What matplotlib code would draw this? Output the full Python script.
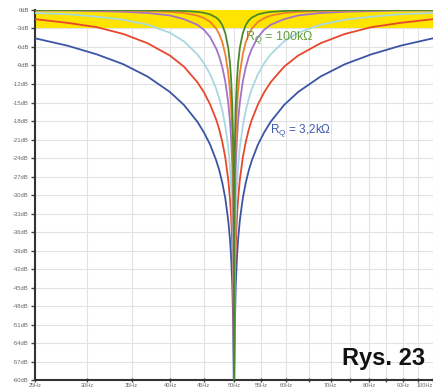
import matplotlib
matplotlib.use("Agg")
import matplotlib.pyplot as plt
from matplotlib.ticker import FixedLocator, NullFormatter

# frequency points (Hz), dense around the 50 Hz notch
freqs = [25, 28, 31, 34, 37, 40, 42, 44, 45, 46, 47, 47.5, 48, 48.5, 49, 49.3, 49.5, 49.7, 49.85, 49.95,
         50,
         50.05, 50.15, 50.3, 50.51, 50.71, 51.02, 51.55, 52.08, 52.63, 53.19, 54.35, 55.56, 56.82,
         59.52, 62.5, 67.57, 73.53, 80.65, 89.29, 100]

# attenuation (dB), RQ = 3,2k ... 100k
blue = [-4.6, -5.8, -7.2, -8.8, -10.8, -13.3, -15.4, -18.1, -19.8, -21.8, -24.4, -26.0, -28.0, -30.5,
        -34.1, -37.2, -40.1, -44.6, -50.6, -60.0,
        -60.0,
        -60.0, -50.6, -44.6, -40.1, -37.2, -34.1, -30.5, -28.0, -26.0, -24.4, -21.8, -19.8, -18.1,
        -15.4, -13.3, -10.8, -8.8, -7.2, -5.8, -4.6]
red = [-1.5, -2.1, -2.8, -3.9, -5.4, -7.4, -9.2, -11.7, -13.3, -15.3, -17.8, -19.4, -21.4, -23.9,
       -27.5, -30.6, -33.5, -38.0, -44.0, -53.6,
       -60.0,
       -53.6, -44.0, -38.0, -33.5, -30.6, -27.5, -23.9, -21.4, -19.4, -17.8, -15.3, -13.3, -11.7,
       -9.2, -7.4, -5.4, -3.9, -2.8, -2.1, -1.5]
light_blue = [-0.5, -0.7, -1.1, -1.6, -2.4, -3.7, -5.1, -7.2, -8.6, -10.4, -12.8, -14.4, -16.3, -18.8,
              -22.3, -25.4, -28.4, -32.8, -38.9, -48.4,
              -60.0,
              -48.4, -38.9, -32.8, -28.4, -25.4, -22.3, -18.8, -16.3, -14.4, -12.8, -10.4, -8.6, -7.2,
              -5.1, -3.7, -2.4, -1.6, -1.1, -0.7, -0.5]
purple = [-0.1, -0.1, -0.2, -0.3, -0.5, -0.9, -1.5, -2.4, -3.2, -4.4, -6.3, -7.6, -9.3, -11.6,
          -15.0, -18.0, -20.9, -25.3, -31.4, -40.9,
          -60.0,
          -40.9, -31.4, -25.3, -20.9, -18.0, -15.0, -11.6, -9.3, -7.6, -6.3, -4.4, -3.2, -2.4,
          -1.5, -0.9, -0.5, -0.3, -0.2, -0.1, -0.1]
orange = [-0.03, -0.05, -0.07, -0.11, -0.18, -0.32, -0.52, -0.92, -1.31, -1.93, -3.05, -3.95, -5.24, -7.17,
          -10.24, -13.15, -15.98, -20.37, -26.37, -35.91,
          -60.0,
          -35.91, -26.37, -20.37, -15.98, -13.15, -10.24, -7.17, -5.24, -3.95, -3.05, -1.93, -1.31, -0.92,
          -0.52, -0.32, -0.18, -0.11, -0.07, -0.05, -0.03]
green = [-0.01, -0.02, -0.02, -0.04, -0.06, -0.11, -0.18, -0.32, -0.47, -0.73, -1.25, -1.71, -2.47, -3.76,
         -6.15, -8.70, -11.34, -15.59, -21.53, -31.05,
         -60.0,
         -31.05, -21.53, -15.59, -11.34, -8.70, -6.15, -3.76, -2.47, -1.71, -1.25, -0.73, -0.47, -0.32,
         -0.18, -0.11, -0.06, -0.04, -0.02, -0.02, -0.01]

x_ticks = [25, 30, 35, 40, 45, 50, 55, 60, 70, 80, 90, 100]
x_minor = [65, 75, 85, 95]
y_ticks = list(range(0, -61, -3))

plt.rcParams['font.family'] = ['Liberation Sans', 'DejaVu Sans']

fig = plt.figure(figsize=(4.33, 3.88), dpi=100)
ax = fig.add_axes([0.081, 0.0195, 0.919, 0.955])

ax.axhspan(-3, 0, color="#ffe400", zorder=1, lw=0)

series = [(blue, "#3a55a4"), (red, "#e8472c"), (light_blue, "#a8d8e2"),
          (purple, "#a373c8"), (orange, "#f07f2e"), (green, "#4a8a2a")]
for vals, col in series:
    ax.plot(freqs, vals, color=col, lw=1.3, zorder=3)

ax.set_xscale("log")
ax.set_xlim(25, 100)
ax.set_ylim(-60, 0)
ax.xaxis.set_major_locator(FixedLocator(x_ticks))
ax.xaxis.set_minor_locator(FixedLocator(x_minor))
ax.xaxis.set_minor_formatter(NullFormatter())
ax.set_xticklabels([f"{t}Hz" for t in x_ticks])
ax.set_yticks(y_ticks)
ax.set_yticklabels([f"{t}dB" for t in y_ticks])
# last label sits on the figure edge, keep it inside
ax.get_xticklabels()[-1].set_horizontalalignment("right")

ax.grid(True, which="both", color="#e2e2e2", lw=0.8, zorder=0)
ax.set_axisbelow(True)
ax.tick_params(axis="y", which="both", labelsize=4.2, labelcolor="#666666",
               length=3, width=1, color="#444444", pad=1.5)
ax.tick_params(axis="x", which="both", labelsize=4.0, labelcolor="#666666",
               direction="inout", length=3, width=1, color="#444444", pad=0.2)

for side in ["top", "right"]:
    ax.spines[side].set_visible(False)
for side in ["left", "bottom"]:
    ax.spines[side].set_color("#333333")
    ax.spines[side].set_linewidth(1.5)

ax.text(0.528, 0.925, "R$_\\mathregular{Q}$ = 100k\u03a9", transform=ax.transAxes,
        fontsize=9, color="#63a03c", va="center", ha="left")
ax.text(0.59, 0.675, "R$_\\mathregular{Q}$ = 3,2k\u03a9", transform=ax.transAxes,
        fontsize=8.5, color="#3f5cae", va="center", ha="left")
fig.text(0.79, 0.06, "Rys. 23", fontsize=17, fontweight="bold", color="#111111",
         ha="left", va="baseline")

fig.savefig("out.png", dpi=100)
